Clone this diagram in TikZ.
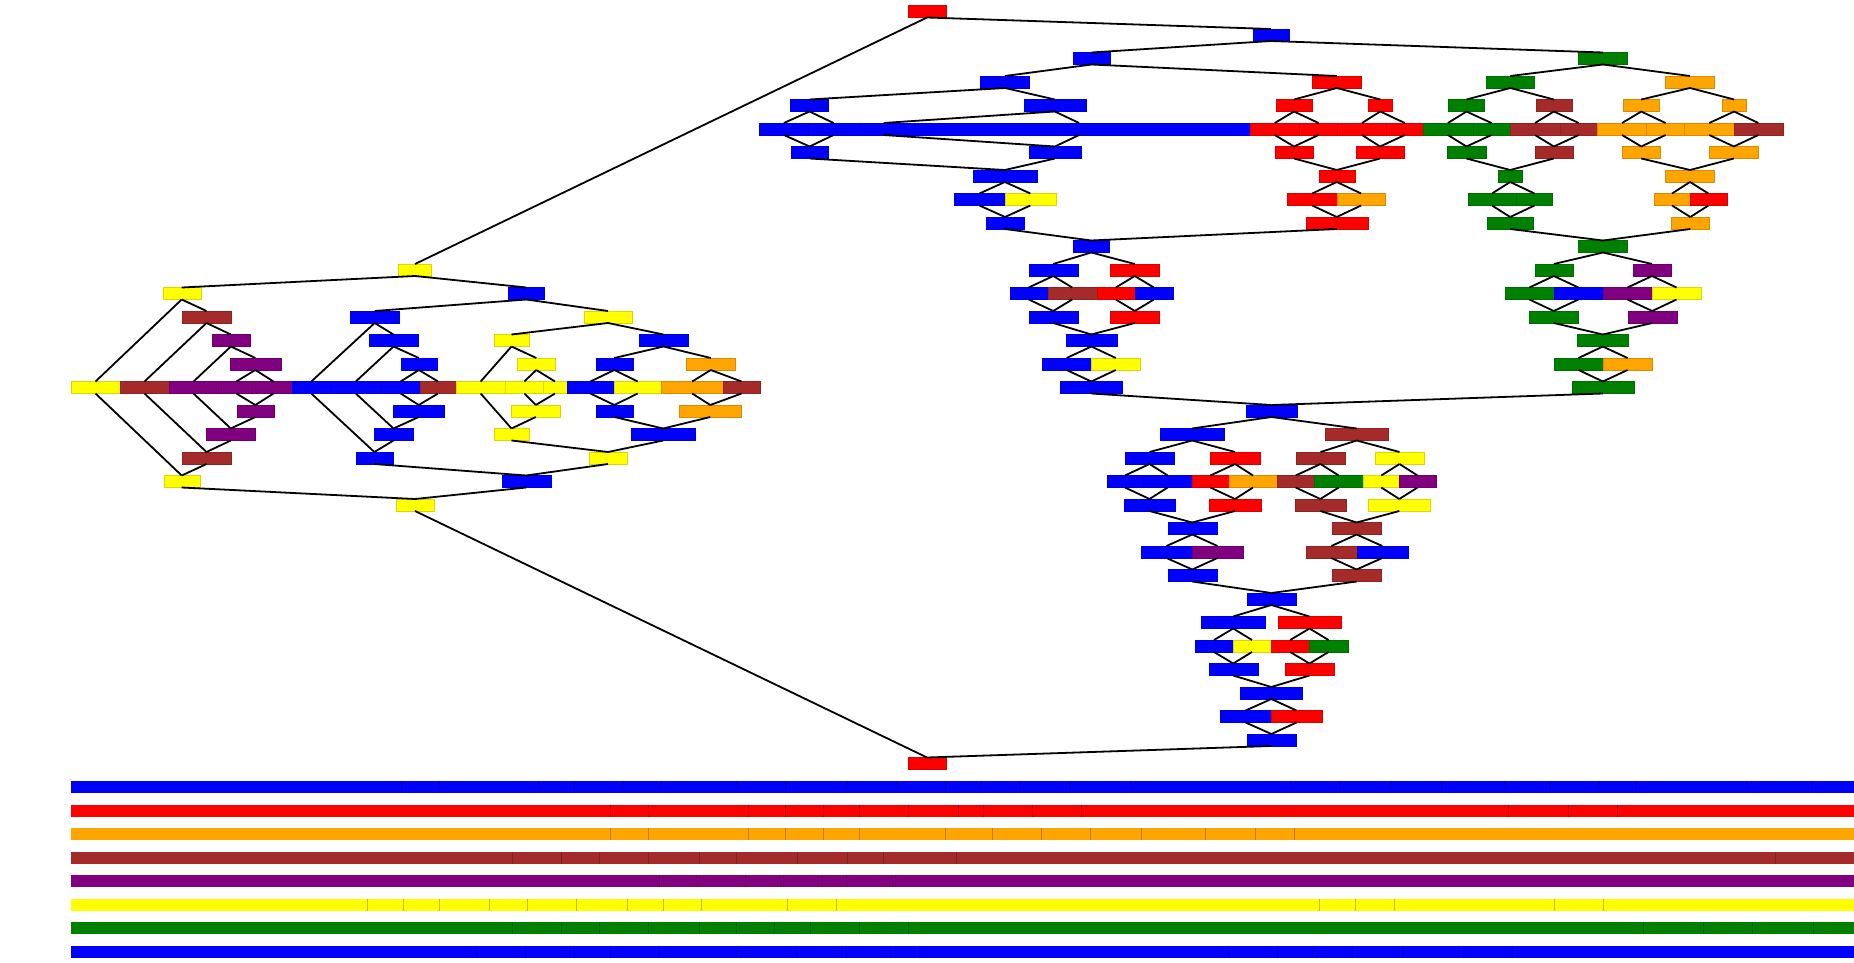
\documentclass[tikz,border=0pt]{standalone}
\definecolor{cB}{RGB}{0,0,255}
\definecolor{cR}{RGB}{255,0,0}
\definecolor{cO}{RGB}{255,165,0}
\definecolor{cN}{RGB}{165,42,42}
\definecolor{cP}{RGB}{128,0,128}
\definecolor{cY}{RGB}{255,255,0}
\definecolor{cG}{RGB}{0,128,0}
\tikzset{
  box/.style={rectangle,inner sep=0pt,outer sep=0pt,minimum height=12pt,line width=0.3pt},
  edge/.style={line width=1.8pt,black},
  barseg/.style={line width=0.5pt}
}
\newcommand\bx[5]{\node[box,fill=#2,draw=#2!85!black,minimum width={(#4)-(#3)}] (#1) at ({((#3)+(#4))/2},{11.5+23.5*#5}) {};}
\newcommand\barrow[2]{\fill[#1] (71,{11.5+23.5*#2-6}) rectangle (1854,{11.5+23.5*#2+6});}
\newcommand\divs[3]{\foreach \xx in {#3} \draw[barseg,#1!75!black] (\xx,{11.5+23.5*#2-6}) -- (\xx,{11.5+23.5*#2+6});}
\begin{document}
\begin{tikzpicture}[x=1pt,y=-1pt]
\fill[white] (0,0) rectangle (1854,963);
\useasboundingbox (0,0) rectangle (1854,963);
% ---- top
\bx{r0}{cR}{908}{946}{0}
\bx{a1}{cB}{1253}{1289}{1}
\bx{a2}{cB}{1073}{1110}{2}
\bx{g2}{cG}{1578.5}{1627.5}{2}
\bx{a3}{cB}{980.4}{1029.6}{3}
\bx{b3}{cR}{1312.3}{1361.2}{3}
\bx{g3}{cG}{1486}{1534.6}{3}
\bx{o3}{cO}{1665.5}{1714.5}{3}
\bx{a4L}{cB}{790.4}{828.6}{4}
\bx{a4R}{cB}{1023.9}{1085.7}{4}
\bx{b4L}{cR}{1276}{1312}{4}
\bx{b4R}{cR}{1368.4}{1392.2}{4}
\bx{g4}{cG}{1448.3}{1484.6}{4}
\bx{n4}{cN}{1535.7}{1572}{4}
\bx{o4L}{cO}{1623.1}{1659.4}{4}
\bx{o4R}{cO}{1722.4}{1745.8}{4}
\bx{s5a}{cB}{759.6}{808.2}{5}
\bx{s5b}{cB}{808.2}{858.9}{5}
\bx{s5c}{cB}{858.9}{908.2}{5}
\bx{s5d}{cB}{908.2}{1250}{5}
\bx{s5e}{cR}{1250}{1299.5}{5}
\bx{s5f}{cR}{1299.5}{1337.5}{5}
\bx{s5g}{cR}{1337.5}{1386.4}{5}
\bx{s5h}{cR}{1386.4}{1423.1}{5}
\bx{s5i}{cG}{1423.1}{1472.7}{5}
\bx{s5j}{cG}{1472.7}{1510.1}{5}
\bx{s5k}{cN}{1510.1}{1559.8}{5}
\bx{s5l}{cN}{1559.8}{1597.6}{5}
\bx{s5m}{cO}{1597.6}{1646.5}{5}
\bx{s5n}{cO}{1646.5}{1684.6}{5}
\bx{s5o}{cO}{1684.6}{1733.9}{5}
\bx{s5p}{cN}{1733.9}{1782.8}{5}
\bx{a6L}{cB}{791.4}{827.9}{6}
\bx{a6R}{cB}{1029.3}{1080.7}{6}
\bx{b6L}{cR}{1275}{1313}{6}
\bx{b6R}{cR}{1356.5}{1403.7}{6}
\bx{g6}{cG}{1447.2}{1485.7}{6}
\bx{n6}{cN}{1535}{1572.7}{6}
\bx{o6L}{cO}{1622}{1660.5}{6}
\bx{o6R}{cO}{1709.4}{1758.3}{6}
\bx{a7}{cB}{972.9}{1036.8}{7}
\bx{b7}{cR}{1318.8}{1354.7}{7}
\bx{g7}{cG}{1498.3}{1522}{7}
\bx{o7}{cO}{1665.5}{1714.5}{7}
\bx{s8a}{cB}{953.9}{1005}{8}
\bx{s8b}{cY}{1005}{1055.7}{8}
\bx{s8c}{cR}{1287.6}{1336.8}{8}
\bx{s8d}{cO}{1336.8}{1385.3}{8}
\bx{s8e}{cG}{1467.7}{1516.3}{8}
\bx{s8f}{cG}{1516.3}{1552.6}{8}
\bx{s8g}{cO}{1654}{1690}{8}
\bx{s8h}{cR}{1690}{1726.7}{8}
\bx{a9}{cB}{986}{1024}{9}
\bx{b9}{cR}{1305.8}{1367.7}{9}
\bx{g9}{cG}{1486.8}{1533.5}{9}
\bx{o9}{cO}{1671.3}{1709.4}{9}
\bx{a10}{cB}{1073}{1109.5}{10}
\bx{g10}{cG}{1578.5}{1627.5}{10}
% ---- rows 11-16 right
\bx{c11}{cB}{1028.7}{1077.7}{11}
\bx{d11}{cR}{1110.3}{1159.3}{11}
\bx{h11}{cG}{1535}{1572.7}{11}
\bx{p11}{cP}{1633}{1671}{11}
\bx{c12a}{cB}{1009.7}{1047.7}{12}
\bx{c12b}{cN}{1047.7}{1096.7}{12}
\bx{d12a}{cR}{1096.7}{1135}{12}
\bx{d12b}{cB}{1135}{1172.7}{12}
\bx{h12a}{cG}{1505}{1553.7}{12}
\bx{h12b}{cB}{1553.7}{1603}{12}
\bx{p12a}{cP}{1603}{1652}{12}
\bx{p12b}{cY}{1652}{1701}{12}
\bx{c13}{cB}{1028.7}{1077.7}{13}
\bx{d13}{cR}{1110.3}{1159.3}{13}
\bx{h13}{cG}{1529.3}{1578.3}{13}
\bx{p13}{cP}{1627.7}{1676.7}{13}
\bx{c14}{cB}{1066}{1116.7}{14}
\bx{h14}{cG}{1577.3}{1628.3}{14}
\bx{c15a}{cB}{1042}{1091.3}{15}
\bx{c15b}{cY}{1091.3}{1140.3}{15}
\bx{h15a}{cG}{1554}{1603}{15}
\bx{h15b}{cO}{1603}{1652}{15}
\bx{c16}{cB}{1060.3}{1122.3}{16}
\bx{h16}{cG}{1572}{1633.7}{16}
% ---- rows 17-31 right
\bx{e17}{cB}{1246}{1296.7}{17}
\bx{e18a}{cB}{1160.3}{1224}{18}
\bx{e18b}{cN}{1325}{1388.3}{18}
\bx{e19a}{cB}{1125}{1174}{19}
\bx{e19b}{cR}{1210.3}{1259.7}{19}
\bx{e19c}{cN}{1296}{1345}{19}
\bx{e19d}{cY}{1375}{1424}{19}
\bx{e20a}{cB}{1106.7}{1143.3}{20}
\bx{e20b}{cB}{1143.3}{1192}{20}
\bx{e20c}{cR}{1192}{1228.7}{20}
\bx{e20d}{cO}{1228.7}{1277.3}{20}
\bx{e20e}{cN}{1277.3}{1314}{20}
\bx{e20f}{cG}{1314}{1363.3}{20}
\bx{e20g}{cY}{1363.3}{1399.3}{20}
\bx{e20h}{cP}{1399.3}{1435.7}{20}
\bx{e21a}{cB}{1124}{1175}{21}
\bx{e21b}{cR}{1209.3}{1260.7}{21}
\bx{e21c}{cN}{1295}{1345.7}{21}
\bx{e21d}{cY}{1368.3}{1430.3}{21}
\bx{e22a}{cB}{1167.7}{1216.7}{22}
\bx{e22b}{cN}{1332}{1381.3}{22}
\bx{e23a}{cB}{1141}{1192}{23}
\bx{e23b}{cP}{1192}{1243}{23}
\bx{e23c}{cN}{1306}{1356.7}{23}
\bx{e23d}{cB}{1356.7}{1407.7}{23}
\bx{e24a}{cB}{1167.7}{1216.7}{24}
\bx{e24b}{cN}{1332}{1381.3}{24}
\bx{e25}{cB}{1247}{1295.7}{25}
\bx{f26a}{cB}{1201.3}{1265}{26}
\bx{f26b}{cR}{1277.7}{1341.3}{26}
\bx{f27a}{cB}{1195}{1233}{27}
\bx{f27b}{cY}{1233}{1271}{27}
\bx{f27c}{cR}{1271}{1309.3}{27}
\bx{f27d}{cG}{1309.3}{1347.7}{27}
\bx{f28a}{cB}{1208.7}{1257.7}{28}
\bx{f28b}{cR}{1285}{1334}{28}
\bx{f29}{cB}{1240.3}{1302.3}{29}
\bx{f30a}{cB}{1220.3}{1271}{30}
\bx{f30b}{cR}{1271}{1322}{30}
\bx{f31}{cB}{1247}{1295.7}{31}
\bx{r32}{cR}{908}{946}{32}
% ---- left
\bx{y11}{cY}{398.5}{431.6}{11}
\bx{y12}{cY}{162.7}{200.7}{12}
\bx{w12}{cB}{508.3}{544.3}{12}
\bx{n13}{cN}{182}{231}{13}
\bx{w13}{cB}{350.3}{399}{13}
\bx{v13}{cY}{583.7}{632.3}{13}
\bx{u14}{cP}{212}{249.7}{14}
\bx{w14}{cB}{369.3}{417.7}{14}
\bx{v14}{cY}{493.7}{529.3}{14}
\bx{x14}{cB}{639.3}{687.7}{14}
\bx{u15}{cP}{230}{280.7}{15}
\bx{w15}{cB}{400.7}{437}{15}
\bx{v15}{cY}{517.3}{555.3}{15}
\bx{x15a}{cB}{596}{632.7}{15}
\bx{x15b}{cO}{686.3}{735.3}{15}
\bx{t16a}{cY}{71}{120}{16}
\bx{t16b}{cN}{120}{169}{16}
\bx{t16c}{cP}{169}{218}{16}
\bx{t16d}{cP}{218}{254.7}{16}
\bx{t16e}{cP}{254.7}{292.3}{16}
\bx{t16f}{cB}{292.3}{330.3}{16}
\bx{t16g}{cB}{330.3}{381.3}{16}
\bx{t16h}{cB}{381.3}{420}{16}
\bx{t16i}{cN}{420}{456}{16}
\bx{t16j}{cY}{456}{505.3}{16}
\bx{t16k}{cY}{505.3}{543.3}{16}
\bx{t16l}{cY}{543.3}{566.7}{16}
\bx{t16m}{cB}{566.7}{614}{16}
\bx{t16n}{cY}{614}{661.3}{16}
\bx{t16o}{cO}{661.3}{723}{16}
\bx{t16p}{cN}{723}{760}{16}
\bx{u17}{cP}{237}{273.7}{17}
\bx{w17}{cB}{393.3}{444.3}{17}
\bx{v17}{cY}{511.3}{560.3}{17}
\bx{x17a}{cB}{596}{632.7}{17}
\bx{x17b}{cO}{679.3}{741.3}{17}
\bx{u18}{cP}{206.3}{255.3}{18}
\bx{w18}{cB}{374.3}{412.7}{18}
\bx{v18}{cY}{493.7}{529.3}{18}
\bx{x18}{cB}{631.3}{695}{18}
\bx{n19}{cN}{182}{231}{19}
\bx{w19}{cB}{356}{392.7}{19}
\bx{v19}{cY}{589}{627}{19}
\bx{y20}{cY}{163.7}{199.7}{20}
\bx{w20}{cB}{501.7}{550.7}{20}
\bx{y21}{cY}{396}{434}{21}
% ---- edges
\foreach \p/\c in {r0/y11, r0/a1, a1/a2, a1/g2, a2/a3, a2/b3, a3/a4L, a3/a4R, b3/b4L, b3/b4R, g2/g3, g2/o3, g3/g4, g3/n4, o3/o4L, o3/o4R,
a4L/s5a, a4L/s5b, a4R/s5c, a4R/s5d, b4L/s5e, b4L/s5f, b4R/s5g, b4R/s5h, g4/s5i, g4/s5j, n4/s5k, n4/s5l, o4L/s5m, o4L/s5n, o4R/s5o, o4R/s5p,
s5a/a6L, s5b/a6L, s5c/a6R, s5d/a6R, s5e/b6L, s5f/b6L, s5g/b6R, s5h/b6R, s5i/g6, s5j/g6, s5k/n6, s5l/n6, s5m/o6L, s5n/o6L, s5o/o6R, s5p/o6R,
a6L/a7, a6R/a7, b6L/b7, b6R/b7, g6/g7, n6/g7, o6L/o7, o6R/o7,
a7/s8a, a7/s8b, b7/s8c, b7/s8d, g7/s8e, g7/s8f, o7/s8g, o7/s8h,
s8a/a9, s8b/a9, s8c/b9, s8d/b9, s8e/g9, s8f/g9, s8g/o9, s8h/o9,
a9/a10, b9/a10, g9/g10, o9/g10,
a10/c11, a10/d11, c11/c12a, c11/c12b, d11/d12a, d11/d12b, c12a/c13, c12b/c13, d12a/d13, d12b/d13, c13/c14, d13/c14, c14/c15a, c14/c15b, c15a/c16, c15b/c16, c16/e17,
g10/h11, g10/p11, h11/h12a, h11/h12b, p11/p12a, p11/p12b, h12a/h13, h12b/h13, p12a/p13, p12b/p13, h13/h14, p13/h14, h14/h15a, h14/h15b, h15a/h16, h15b/h16, h16/e17,
e17/e18a, e17/e18b, e18a/e19a, e18a/e19b, e18b/e19c, e18b/e19d, e19a/e20a, e19a/e20b, e19b/e20c, e19b/e20d, e19c/e20e, e19c/e20f, e19d/e20g, e19d/e20h,
e20a/e21a, e20b/e21a, e20c/e21b, e20d/e21b, e20e/e21c, e20f/e21c, e20g/e21d, e20h/e21d, e21a/e22a, e21b/e22a, e21c/e22b, e21d/e22b,
e22a/e23a, e22a/e23b, e22b/e23c, e22b/e23d, e23a/e24a, e23b/e24a, e23c/e24b, e23d/e24b, e24a/e25, e24b/e25,
e25/f26a, e25/f26b, f26a/f27a, f26a/f27b, f26b/f27c, f26b/f27d, f27a/f28a, f27b/f28a, f27c/f28b, f27d/f28b, f28a/f29, f28b/f29, f29/f30a, f29/f30b, f30a/f31, f30b/f31, f31/r32, y21/r32,
y11/y12, y11/w12, y12/t16a, y12/n13, n13/t16b, n13/u14, u14/t16c, u14/u15, u15/t16d, u15/t16e, t16d/u17, t16e/u17, u17/u18, t16c/u18, u18/n19, t16b/n19, n19/y20, t16a/y20,
w12/w13, w12/v13, w13/t16f, w13/w14, w14/t16g, w14/w15, w15/t16h, w15/t16i, t16h/w17, t16i/w17, w17/w18, t16g/w18, w18/w19, t16f/w19, w19/w20, v19/w20,
v13/v14, v13/x14, v14/t16j, v14/v15, v15/t16k, v15/t16l, t16k/v17, t16l/v17, v17/v18, t16j/v18, x14/x15a, x14/x15b, x15a/t16m, x15a/t16n, x15b/t16o, x15b/t16p,
t16m/x17a, t16n/x17a, t16o/x17b, t16p/x17b, x17a/x18, x17b/x18, v18/v19, x18/v19, y20/y21, w20/y21}
  \draw[edge] (\p.south) -- (\c.north);
% ---- bars
\barrow{cB}{33}
\barrow{cR}{34}
\barrow{cO}{35}
\barrow{cN}{36}
\barrow{cP}{37}
\barrow{cY}{38}
\barrow{cG}{39}
\barrow{cB}{40}
\divs{cB}{33}{401.2,439.6,538.4,574.7,623.3,661.6,736.4,785.3,847.3,896.3,944.9,981.7,1019.6,1070.4,1130.5,1290.5,1339.6,1390.8,1441.7,1503.9,1550.5,1599.6,1635.3,1746.3,1811}
\divs{cR}{34}{610.2,648.6,748.2,785.3,823.2,859.2,908.6,957.9,983.2,1032.6,1081.6,1508.5,1568.6,1617.3}
\divs{cO}{35}{610.2,648.6,748.2,785.3,823.2,859.2,945.7,992.4,1041.4,1090.4,1141.2,1205.5,1255.3,1294.3}
\divs{cN}{36}{512.2,561.2,599.6,648.6,698.8,736.4,797.6,847.3,883.7,956.4,1775.3}
\divs{cP}{37}{659.6,696.7,745.5,783.4,821.7,846.2,894.8}
\divs{cY}{38}{367.3,403.3,439.6,489.4,527.3,576.3,627.3,663.3,701.1,787.6,836.2,1319.4,1355.5,1394.7,1554.4,1603.2}
\divs{cG}{39}{512.2,561.2,599.6,648.6,698.8,736.4,774.2,810.6,859.6,908.6,1643.5,1703.2,1752.3,1813.4}
\divs{cB}{40}{476.3,525.7,574.3,610.2,659.2,736.4,796.4,845.8,894.8,919.3,1228.1,1277.1,1312.4,1352.3,1403.2,1463.3,1512.4}
\end{tikzpicture}
\end{document}
